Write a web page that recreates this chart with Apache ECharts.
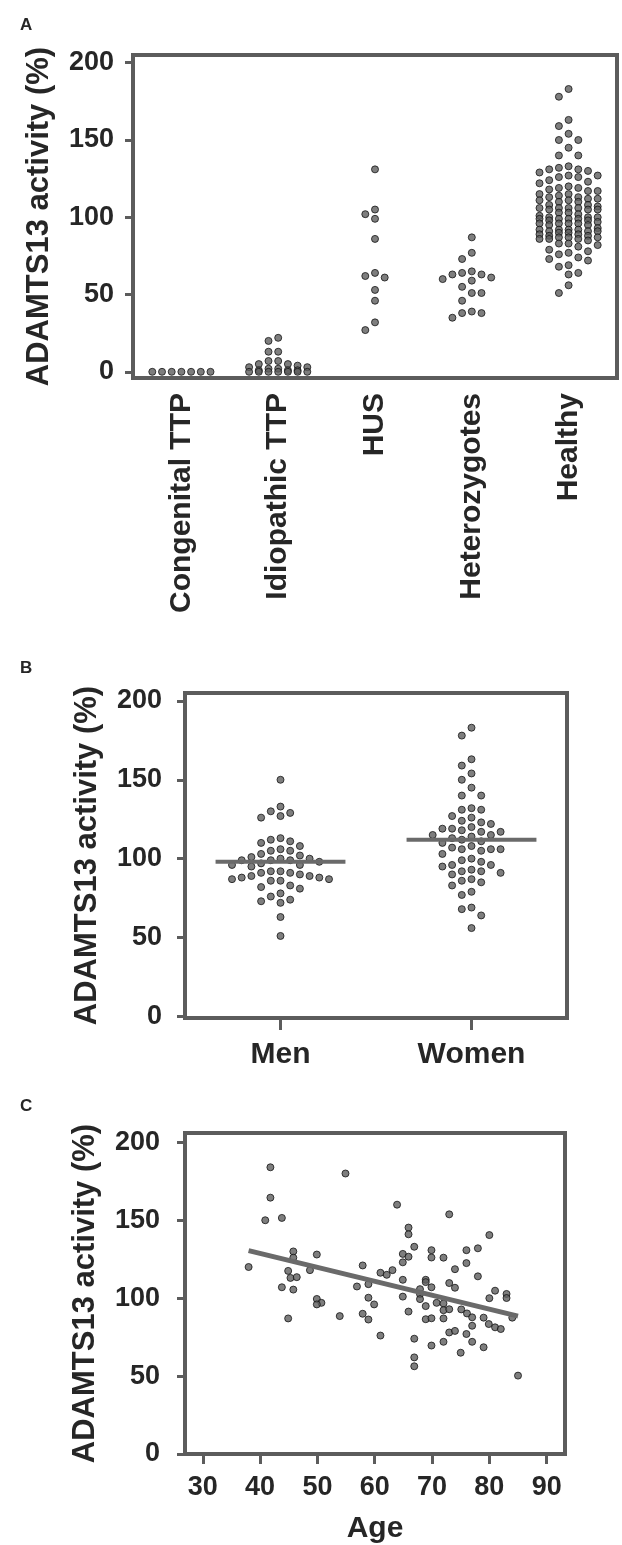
<!DOCTYPE html>
<html>
<head>
<meta charset="utf-8">
<script src="https://cdn.jsdelivr.net/npm/echarts@6/dist/echarts.min.js"></script>
<style>
  html, body { margin: 0; padding: 0; background: #fff; }
  #chart { width: 622px; height: 1545px; }
</style>
</head>
<body>
<div id="chart"></div>
<script>
// A: ADAMTS13 activity by patient group
const groupNames = ['Congenital TTP', 'Idiopathic TTP', 'HUS', 'Heterozygotes', 'Healthy']
const congenitalTTP = [0, 0, 0, 0, 0, 0, 0]
const idiopathicTTP = [22, 20, 13, 13, 7, 7, 5, 5, 4, 3, 3, 2, 2, 1, 1, 1, 0, 0, 0, 0, 0, 0, 0]
const hus = [131, 105, 102, 99, 86, 64, 62, 61, 53, 46, 32, 27]
const heterozygotes = [87, 77, 73, 65, 64, 63, 63, 61, 60, 59, 55, 51, 51, 46, 39, 38, 38, 35]

// B: healthy donors by sex, bar = median
const sexNames = ['Men', 'Women']
const men = [150, 133, 130, 129, 127, 126, 113, 112, 111, 110, 108, 106, 105, 105, 103, 102, 101, 100, 100, 99,
  99, 99, 98, 97, 96, 96, 95, 92, 92, 91, 91, 90, 89, 89, 88, 88, 87, 87, 86, 86,
  83, 82, 81, 78, 76, 74, 73, 72, 63, 51]
const women = [183, 178, 163, 159, 154, 150, 145, 140, 140, 132, 131, 131, 127, 126, 124, 123, 122, 120, 119, 119,
  118, 117, 117, 115, 115, 114, 113, 112, 111, 110, 108, 107, 106, 106, 106, 105, 103, 100, 99, 98,
  96, 96, 95, 93, 92, 92, 91, 90, 87, 86, 85, 83, 79, 77, 69, 68, 64, 56]
const sexMedians = [98, 112]

// the healthy column in A is the same donors as in B
const healthy = men.concat(women)

// C: activity against age, with the linear fit
const ages = [38, 41.8, 41.8, 40.9, 43.8, 45.8, 45.8, 44.9, 45.3, 46.4,
  43.8, 45.8, 44.9, 49.9, 48.7, 49.9, 50.7, 49.9, 53.9, 54.9,
  57.9, 56.9, 58.9, 58.9, 59.9, 57.9, 58.9, 61, 62.1, 63.1,
  61, 63.9, 64.9, 65.9, 64.9, 65.9, 65.9, 66.9, 64.9, 64.9,
  65.9, 66.9, 66.9, 66.9, 67.9, 67.9, 67.9, 68.9, 68.9, 69.9,
  68.9, 68.9, 69.9, 69.9, 69.9, 69.9, 72, 72, 73, 73,
  74, 74, 70.8, 72, 72, 72, 73, 73, 74, 75,
  75.1, 76, 76, 76.1, 76, 77, 77, 77, 78, 78,
  79, 79, 80, 80, 79.9, 81, 81, 82, 83, 83,
  84, 85]
const activity = [120, 184, 164.5, 150, 151.5, 130, 126, 117.5, 113, 113.5,
  107, 105.5, 87, 128, 118, 99.5, 97, 96, 88.5, 180,
  121, 107.5, 109, 100.3, 96, 90, 86.3, 116.3, 115, 118,
  76, 160, 128.4, 126.6, 123, 145.3, 141, 133, 111.8, 101,
  91.4, 74, 62, 56.3, 105.8, 102.6, 99.4, 111.8, 110.3, 107,
  94.9, 86.5, 87.1, 130.8, 126.1, 69.6, 126, 72, 153.8, 109.7,
  118.6, 106.7, 97, 96.6, 92.3, 87, 92.9, 78, 79, 65,
  92.8, 130.8, 122.5, 90.2, 77, 87.7, 82.3, 72, 132, 114,
  87.5, 68.5, 140.5, 100, 83.4, 104.8, 81.3, 80.2, 102.7, 100.1,
  87.5, 50.3]
const fitAges = [38, 85]
const fitActivity = [130.5, 88.5]

const activityTicks = [0, 50, 100, 150, 200]
const ageTicks = [30, 40, 50, 60, 70, 80, 90]

const FONT = "'Liberation Sans', Arial, sans-serif"
const TEXT = '#262626'
const FRAME = '#5c5c5c'

const gridA = { left: 133, top: 55, width: 484, height: 323 }
const gridB = { left: 185, top: 693, width: 382, height: 325 }
const gridC = { left: 185, top: 1133, width: 380, height: 324 }
const rangeA = { x: [-0.5, 4.5], y: [-4, 205] }
const rangeB = { x: [-0.5, 1.5], y: [-1, 205] }
const rangeC = { x: [26.9, 93.2], y: [0, 206] }

// dot plot layout: columns on a fixed pixel step, a dot moves sideways while it hits one already placed
const STEP = 9.7
const MIN_GAP = 8
function swarm(values, center, grid, range, maxK) {
  const pxX = grid.width / (range.x[1] - range.x[0])
  const pxY = grid.height / (range.y[1] - range.y[0])
  const placed = []
  return values.slice().sort((a, b) => b - a).map(v => {
    let best = 0
    let bestGap = -1
    for (let i = 0; i <= 2 * maxK; i++) {
      const k = i % 2 ? -(i + 1) / 2 : i / 2
      let gap = Infinity
      placed.forEach(p => {
        const d = Math.hypot((k - p.k) * STEP, (v - p.v) * pxY)
        if (d < gap) gap = d
      })
      if (gap >= MIN_GAP) { best = k; break }
      if (gap > bestGap) { bestGap = gap; best = k }
    }
    placed.push({ k: best, v })
    return [center + best * STEP / pxX, v]
  })
}

const dotStyle = { color: '#5e5e5e', borderColor: '#141414', borderWidth: 1 }
const textStyle = { color: TEXT, fontFamily: FONT, fontWeight: 'bold' }

function activityAxis(gridIndex, range, margin, nameGap) {
  return {
    type: 'value',
    gridIndex,
    min: range.y[0],
    max: range.y[1],
    name: 'ADAMTS13 activity (%)',
    nameLocation: 'middle',
    nameGap,
    nameTextStyle: { ...textStyle, fontSize: 31 },
    axisLine: { show: false, onZero: false },
    axisTick: { show: true, length: 8, customValues: activityTicks, lineStyle: { width: 3, color: FRAME } },
    axisLabel: { customValues: activityTicks, margin, fontSize: 27, ...textStyle },
    splitLine: { show: false }
  }
}

function frame(g) {
  return { ...g, show: true, borderColor: FRAME, borderWidth: 4, backgroundColor: 'transparent' }
}

const groups = [congenitalTTP, idiopathicTTP, hus, heterozygotes, healthy]
const groupSeries = groups.map((vals, i) => ({
  type: 'scatter',
  xAxisIndex: 0,
  yAxisIndex: 0,
  symbolSize: 7,
  itemStyle: dotStyle,
  data: swarm(vals, i, gridA, rangeA, 3)
}))

const sexSeries = [men, women].map((vals, i) => ({
  type: 'scatter',
  xAxisIndex: 1,
  yAxisIndex: 1,
  symbolSize: 7,
  itemStyle: dotStyle,
  data: swarm(vals, i, gridB, rangeB, 5)
}))

const medianSeries = sexMedians.map((m, i) => ({
  type: 'line',
  xAxisIndex: 1,
  yAxisIndex: 1,
  symbol: 'none',
  z: 5,
  lineStyle: { width: 4, color: '#6a6a6a' },
  data: [[i - 0.34, m], [i + 0.34, m]]
}))

const chart = echarts.init(document.getElementById('chart'), null, { renderer: 'canvas' })
chart.setOption({
  animation: false,
  backgroundColor: '#fff',
  title: [
    { text: 'A', left: 15, top: 12, textStyle: { ...textStyle, fontSize: 17 } },
    { text: 'B', left: 15, top: 655, textStyle: { ...textStyle, fontSize: 17 } },
    { text: 'C', left: 15, top: 1093, textStyle: { ...textStyle, fontSize: 17 } }
  ],
  grid: [frame(gridA), frame(gridB), frame(gridC)],
  xAxis: [
    {
      type: 'value', gridIndex: 0, min: rangeA.x[0], max: rangeA.x[1],
      axisLine: { show: false, onZero: false }, axisTick: { show: false }, splitLine: { show: false },
      axisLabel: {
        customValues: groupNames.map((n, i) => i),
        formatter: v => groupNames[Math.round(v)],
        rotate: 90, margin: 15, fontSize: 30, ...textStyle
      }
    },
    {
      type: 'value', gridIndex: 1, min: rangeB.x[0], max: rangeB.x[1],
      axisLine: { show: false, onZero: false }, splitLine: { show: false },
      axisTick: { show: true, length: 12, customValues: [0, 1], lineStyle: { width: 3, color: FRAME } },
      axisLabel: {
        customValues: [0, 1],
        formatter: v => sexNames[Math.round(v)],
        margin: 22, fontSize: 30, ...textStyle
      }
    },
    {
      type: 'value', gridIndex: 2, min: rangeC.x[0], max: rangeC.x[1],
      name: 'Age', nameLocation: 'middle', nameGap: 60,
      nameTextStyle: { ...textStyle, fontSize: 30 },
      axisLine: { show: false, onZero: false }, splitLine: { show: false },
      axisTick: { show: true, length: 10, customValues: ageTicks, lineStyle: { width: 3, color: FRAME } },
      axisLabel: { customValues: ageTicks, margin: 20, fontSize: 27, ...textStyle }
    }
  ],
  yAxis: [
    activityAxis(0, rangeA, 19, 78),
    activityAxis(1, rangeB, 23, 82),
    activityAxis(2, rangeC, 25, 84)
  ],
  series: [
    ...groupSeries,
    ...sexSeries,
    ...medianSeries,
    {
      type: 'scatter',
      xAxisIndex: 2,
      yAxisIndex: 2,
      symbolSize: 7,
      itemStyle: dotStyle,
      data: ages.map((a, i) => [a, activity[i]])
    },
    {
      type: 'line',
      xAxisIndex: 2,
      yAxisIndex: 2,
      symbol: 'none',
      z: 5,
      lineStyle: { width: 5, color: '#6a6a6a' },
      data: fitAges.map((a, i) => [a, fitActivity[i]])
    }
  ]
})
</script>
</body>
</html>
